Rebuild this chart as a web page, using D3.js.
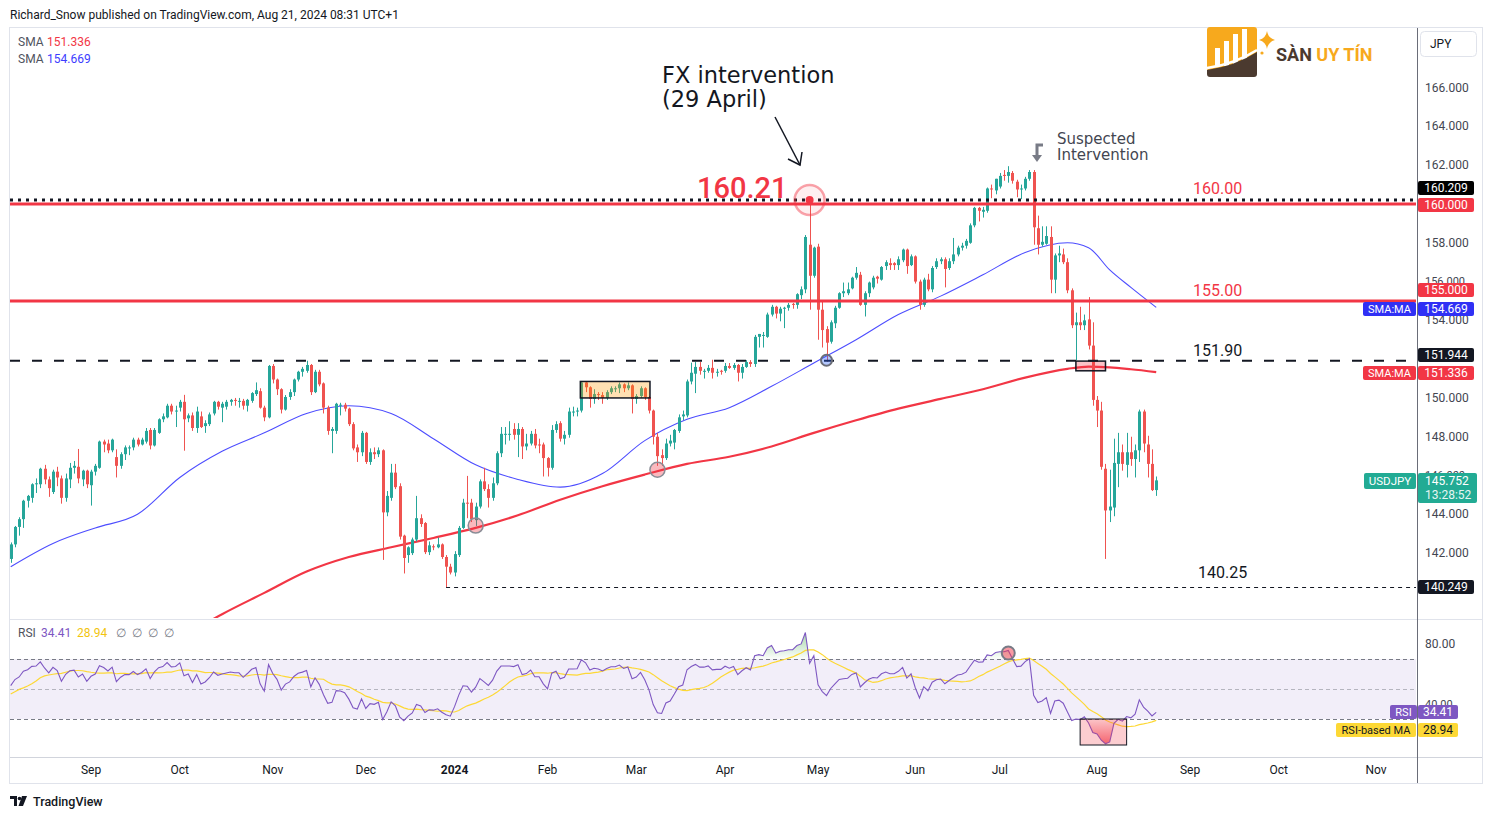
<!DOCTYPE html>
<html><head><meta charset="utf-8">
<script src="https://cdn.jsdelivr.net/npm/d3@7/dist/d3.min.js"></script>
<style>
body{margin:0;background:#fff;overflow:hidden}
svg{font-family:Roboto,"Noto Sans",sans-serif}
</style></head>
<body><svg id="chart" width="1492" height="819"></svg>
<script>
// ---------------- DATA ----------------
const startDate = "2023-08-07";
const axisEndDate = "2024-12-31";
const holidays = ["2024-01-01"];
// daily USDJPY candles [open, high, low, close], one per trading day from startDate
const candles = [
[141.70,142.55,141.50,142.45],[142.45,143.40,142.30,143.35],[143.35,143.85,142.90,143.75],[143.75,144.75,143.30,144.70],[144.70,145.00,144.35,144.95],
[144.85,145.60,144.60,145.55],[145.55,145.85,145.10,145.60],[145.55,146.40,145.35,146.35],[146.35,146.55,145.55,145.80],[145.80,145.95,144.90,145.35],
[145.15,146.30,145.05,146.20],[146.20,146.45,145.45,145.90],[145.85,146.00,144.55,144.85],[144.85,146.10,144.65,145.85],[145.80,146.65,145.35,146.40],
[146.40,146.75,146.10,146.50],[146.45,147.37,145.60,145.85],[145.80,146.30,145.45,146.25],[146.25,146.30,145.35,145.55],[145.50,146.30,144.45,146.20],
[146.20,146.60,146.00,146.50],[146.40,147.80,146.35,147.75],[147.75,147.85,147.20,147.60],[147.65,147.85,147.15,147.30],[147.30,147.90,147.20,147.85],
[146.95,147.35,145.90,146.50],[146.50,147.20,146.35,147.10],[147.10,147.55,146.80,147.45],[147.45,147.55,147.05,147.45],[147.45,147.95,147.30,147.85],
[147.85,147.95,147.50,147.60],[147.60,147.95,147.55,147.85],[147.75,148.45,147.65,148.30],[148.35,148.45,147.35,147.55],[147.55,148.45,147.50,148.35],
[148.20,148.95,148.15,148.90],[148.90,149.20,148.75,149.05],[149.00,149.70,148.95,149.60],[149.60,149.70,149.15,149.30],[149.30,149.60,148.50,149.35],
[149.50,149.90,149.30,149.80],[149.80,150.16,147.28,148.90],[148.95,149.20,148.75,149.10],[149.10,149.25,148.30,148.45],[148.45,149.55,148.20,149.30],
[149.05,149.30,148.45,148.50],[148.55,148.85,148.20,148.70],[148.65,149.25,148.55,149.15],[149.20,149.85,149.10,149.80],[149.80,149.85,149.40,149.55],
[149.50,149.80,148.75,149.70],[149.55,149.90,149.40,149.80],[149.80,149.95,149.60,149.90],[149.90,150.00,149.60,149.85],[149.85,150.00,149.50,149.85],
[149.85,149.95,149.40,149.60],[149.60,149.95,149.30,149.90],[149.85,150.30,149.75,150.25],[150.20,150.80,150.10,150.40],[150.35,150.50,149.45,149.50],
[149.50,149.60,148.80,149.00],[149.00,151.70,148.95,151.65],[151.65,151.75,150.75,150.95],[150.95,151.00,150.15,150.45],[150.45,150.50,149.20,149.40],
[149.40,150.15,149.35,150.05],[150.05,150.45,149.90,150.30],[150.30,151.00,150.10,150.95],[150.95,151.40,150.85,151.35],[151.35,151.60,151.10,151.50],
[151.40,151.92,151.30,151.70],[151.70,151.75,150.15,150.30],[150.30,151.45,150.25,151.35],[151.35,151.45,150.60,150.70],[150.75,150.80,149.20,149.50],
[149.50,149.60,148.10,148.30],[148.30,148.50,147.15,148.40],[148.30,149.75,148.15,149.70],[149.60,149.75,149.10,149.65],[149.65,149.75,149.30,149.45],
[149.45,149.50,148.55,148.65],[148.65,148.75,147.30,147.40],[147.45,147.60,146.70,147.20],[147.20,148.30,147.00,148.20],[148.20,148.25,146.60,146.70],
[146.70,147.40,146.55,147.20],[147.20,147.45,146.85,147.10],[147.10,147.45,146.95,147.30],[147.30,147.35,141.65,144.10],[144.10,145.20,143.90,144.95],
[144.85,146.60,144.70,146.15],[146.15,146.60,145.30,145.40],[145.45,145.60,142.70,142.85],[142.90,142.95,140.95,141.75],[141.90,142.35,141.50,142.30],
[142.00,142.80,141.90,142.70],[142.70,144.95,142.60,143.80],[143.80,144.00,143.35,143.50],[143.55,143.60,141.95,142.05],[142.05,142.60,141.90,142.40],
[142.35,142.45,142.15,142.30],[142.30,142.80,142.25,142.45],[142.45,142.50,141.70,141.80],[141.80,141.90,140.25,141.30],[141.30,141.45,140.90,141.00],
[141.00,142.10,140.80,141.95],[141.90,143.40,141.80,143.30],[143.30,144.80,143.25,144.60],[144.60,145.98,143.80,144.55],[144.60,144.80,143.60,143.75],
[143.70,144.60,143.40,144.40],[144.40,145.80,144.30,145.70],[145.70,146.40,145.20,145.30],[145.30,145.55,144.35,144.85],[144.85,145.90,144.70,145.60],
[145.60,147.25,145.50,147.15],[147.15,148.50,146.95,148.15],[148.15,148.50,147.60,148.15],[148.15,148.80,147.80,148.15],[148.40,148.70,147.85,148.10],
[148.10,148.70,146.95,148.40],[148.40,148.50,146.85,147.50],[147.50,148.15,147.30,147.65],[147.65,148.30,147.55,148.15],[148.15,148.40,147.40,147.55],
[147.60,147.90,147.15,147.55],[147.60,147.70,145.95,146.90],[146.90,146.95,145.95,146.40],[146.40,148.60,146.30,148.35],[148.35,148.80,148.20,148.65],
[148.70,148.80,147.75,147.90],[147.90,148.30,147.60,148.10],[148.10,149.50,147.95,149.30],[149.30,149.55,149.05,149.30],[149.30,149.50,149.05,149.35],
[149.35,150.85,149.25,150.80],[150.80,150.85,150.30,150.55],[150.55,150.60,149.50,149.95],[149.95,150.45,149.70,150.20],[150.20,150.30,149.90,150.15],
[150.15,150.30,149.70,150.00],[150.00,150.40,149.90,150.30],[150.30,150.60,150.20,150.50],[150.50,150.60,150.30,150.50],[150.50,150.80,150.25,150.70],
[150.70,150.75,150.30,150.50],[150.50,150.80,150.40,150.65],[150.65,150.70,149.20,149.95],[149.95,150.20,149.70,150.10],[150.10,150.60,150.00,150.50],
[150.50,150.55,149.90,150.05],[150.05,150.10,149.20,149.35],[149.35,149.40,147.60,148.00],[148.00,148.20,146.50,147.00],[147.05,147.35,146.50,146.90],
[146.90,147.90,146.80,147.65],[147.65,148.10,147.50,147.80],[147.70,148.40,147.35,148.35],[148.30,149.15,148.20,149.00],[149.05,149.35,148.85,149.15],
[149.10,150.95,149.00,150.85],[150.85,151.82,150.70,151.30],[151.25,151.85,150.25,151.60],[151.60,151.85,151.20,151.40],[151.35,151.50,151.00,151.40],
[151.40,151.70,151.30,151.55],[151.55,151.97,151.00,151.30],[151.30,151.50,151.10,151.35],[151.40,151.45,151.20,151.35],[151.40,151.80,151.30,151.65],
[151.65,151.80,151.50,151.55],[151.55,151.80,151.45,151.70],[151.70,151.75,150.85,151.30],[151.30,151.75,151.00,151.60],[151.60,151.95,151.55,151.85],
[151.85,151.95,151.60,151.75],[151.75,153.25,151.60,153.15],[153.15,153.30,152.60,153.30],[153.25,153.40,152.60,153.25],[153.15,154.40,153.10,154.30],
[154.30,154.80,154.20,154.70],[154.70,154.75,154.10,154.35],[154.35,154.70,153.95,154.60],[154.60,154.70,153.60,154.65],[154.65,154.90,154.50,154.80],
[154.85,154.90,154.60,154.80],[154.80,155.40,154.60,155.35],[155.30,155.75,155.10,155.60],[155.60,158.40,155.40,158.30],[157.90,160.21,154.55,156.30],
[156.30,157.80,156.20,157.75],[157.80,157.95,153.00,154.55],[154.55,155.00,152.60,153.50],[153.55,153.70,151.86,152.85],[152.90,154.00,152.80,153.90],
[153.85,154.75,153.60,154.65],[154.65,155.45,154.60,155.40],[155.40,155.95,155.20,155.50],[155.40,155.95,155.30,155.60],[155.65,156.25,155.60,156.20],
[156.20,156.75,156.10,156.45],[156.35,156.50,154.75,154.80],[154.80,155.50,154.20,155.40],[155.40,156.00,155.20,155.95],[155.70,156.30,155.60,156.20],
[156.25,156.30,155.90,156.15],[156.10,156.80,156.05,156.75],[156.80,157.10,156.60,157.00],[156.95,157.20,156.60,156.85],[156.95,157.00,156.60,156.85],
[156.85,157.30,156.60,157.15],[157.10,157.70,157.00,157.65],[157.65,157.70,156.40,156.80],[156.85,157.40,156.80,157.30],[157.30,157.35,155.90,156.00],
[156.00,156.10,154.55,154.80],[154.80,156.20,154.70,156.10],[156.10,156.40,155.50,155.60],[155.60,156.80,155.45,156.70],[156.75,157.20,156.65,157.05],
[157.05,157.25,156.90,157.15],[157.15,157.25,155.70,156.65],[156.70,157.20,156.60,157.05],[157.05,158.25,156.90,157.40],[157.40,157.85,157.30,157.75],
[157.75,158.00,157.60,157.85],[157.85,158.20,157.70,158.10],[158.00,159.00,157.95,158.90],[158.90,159.85,158.80,159.80],[159.80,159.85,159.10,159.65],
[159.60,159.85,159.30,159.70],[159.65,160.85,159.55,160.80],[160.80,161.00,160.30,160.75],[160.70,161.30,160.50,161.30],[160.90,161.60,160.80,161.45],
[161.50,161.75,161.20,161.45],[161.45,161.95,161.10,161.65],[161.60,161.70,161.05,161.20],[161.15,161.25,160.35,160.75],[160.75,161.00,160.25,160.80],
[160.80,161.40,160.70,161.30],[161.30,161.75,161.20,161.65],[161.65,161.75,157.90,158.80],[158.75,159.40,157.40,157.90],[157.90,158.85,157.80,158.05],
[157.95,158.85,157.90,158.35],[158.30,158.85,155.40,156.10],[156.10,157.45,155.40,157.35],[157.35,157.85,157.00,157.45],[157.40,157.70,156.90,157.00],
[157.00,157.20,155.40,155.55],[155.55,155.65,153.60,153.75],[153.75,154.40,151.94,153.90],[153.90,154.70,153.50,153.75],[153.75,154.30,153.50,154.00],
[154.05,155.20,152.50,152.70],[152.70,153.90,149.60,149.90],[149.90,150.10,148.50,149.35],[149.35,149.80,146.30,146.45],[146.35,146.60,141.70,144.20],
[144.20,146.30,143.60,144.40],[144.35,147.90,143.90,146.65],[146.60,148.20,145.40,147.20],[147.20,147.60,146.25,146.60],[146.55,148.20,145.90,147.20],
[147.20,148.00,146.50,146.85],[146.85,147.60,145.90,147.30],[147.30,149.40,146.70,149.30],[149.30,149.40,147.20,147.65],[147.60,148.05,145.90,146.60],
[146.60,147.35,145.20,145.25],[145.25,145.95,144.95,145.75]
];
// closes of the trading days just before startDate (only used to warm up the RSI)
const priorCloses = [143.45,143.60,144.35,144.75,144.30,144.65,144.45,144.65,144.05,142.10,141.35,140.35,138.50,138.05,138.80,
                     138.75,139.60,139.95,140.05,141.80,141.45,140.90,140.25,139.45,141.15,142.30,143.35,143.35,142.55,141.75];
// moving averages at bar indexes
const smaIdx50  = [0,10,20,30,40,50,60,70,80,90,100,110,120,130,140,150,160,170,180,190,200,210,220,230,240,250,255,260,265,271];
const sma50     = [141.3,142.5,143.3,144.0,145.9,147.25,148.2,149.2,149.6,149.2,147.9,146.55,145.8,145.4,146.1,147.8,148.9,149.5,150.6,151.8,153.0,154.3,155.25,156.35,157.5,158.0,157.75,156.6,155.7,154.67];
const smaIdx200 = [40,50,60,70,80,90,100,110,120,130,140,150,160,170,180,190,200,210,220,230,240,250,255,260,265,271];
const sma200    = [137.6,138.85,139.95,141.05,141.8,142.3,142.78,143.3,143.95,144.75,145.45,146.05,146.6,146.97,147.5,148.2,148.85,149.45,149.95,150.45,151.05,151.5,151.62,151.58,151.48,151.336];
const priceTicks = [142,144,148,150,154,158,162,164,166];
const partialPriceTicks = [156,146];   // partly covered by the price tags
const rsiTicks = [80];
const partialRsiTicks = [40];
const monthStarts = ["2023-09-01","2023-10-01","2023-11-01","2023-12-01","2024-01-01","2024-02-01","2024-03-01","2024-04-01","2024-05-01","2024-06-01","2024-07-01","2024-08-01","2024-09-01","2024-10-01","2024-11-01"];
const monthLabels = ["Sep","Oct","Nov","Dec","2024","Feb","Mar","Apr","May","Jun","Jul","Aug","Sep","Oct","Nov"];
const levels = {dotted:160.209, red1:160.00, red2:155.00, dashed:151.944, low:140.249, peak:160.21};

// ---------------- SCALES ----------------
function weekdayDates(start, end, skip){
  const out=[]; const e=new Date(end+"T00:00:00Z");
  for(let d=new Date(start+"T00:00:00Z"); d<=e; d.setUTCDate(d.getUTCDate()+1)){
    const w=d.getUTCDay(); if(w===0||w===6) continue;
    const iso=d.toISOString().slice(0,10); if(skip.includes(iso)) continue;
    out.push(iso);
  }
  return out;
}
const dates = weekdayDates(startDate, axisEndDate, holidays);
const STEP = 4.227, X0 = 10.7;
const x = d3.scalePoint().domain(dates).range([X0, X0 + (dates.length-1)*STEP]);
const xi = i => x(dates[i]);
const y = d3.scaleLinear().domain([140,160]).range([591.9,204]);
const yr = d3.scaleLinear().domain([30,70]).range([719,659]);
const PL=10, PR=1416, PT=28, PB=618, RT=620, RB=756;
const DV = "'DejaVu Sans', Verdana, sans-serif";

const svg = d3.select("#chart");
const defs = svg.append("defs");
defs.append("clipPath").attr("id","cp").append("rect").attr("x",PL).attr("y",PT).attr("width",PR-PL).attr("height",PB-PT);
defs.append("clipPath").attr("id","cr").append("rect").attr("x",PL).attr("y",RT).attr("width",PR-PL).attr("height",RB-RT);
const gg = defs.append("linearGradient").attr("id","gGreen").attr("gradientUnits","userSpaceOnUse").attr("x1",0).attr("x2",0).attr("y1",yr(86)).attr("y2",yr(70));
gg.append("stop").attr("offset",0).attr("stop-color","#4caf50").attr("stop-opacity",0.45);
gg.append("stop").attr("offset",1).attr("stop-color","#4caf50").attr("stop-opacity",0.02);
const gr = defs.append("linearGradient").attr("id","gRed").attr("gradientUnits","userSpaceOnUse").attr("x1",0).attr("x2",0).attr("y1",yr(30)).attr("y2",yr(12));
gr.append("stop").attr("offset",0).attr("stop-color","#f23645").attr("stop-opacity",0.05);
gr.append("stop").attr("offset",1).attr("stop-color","#f23645").attr("stop-opacity",0.75);

// ---------------- FRAME / HEADER ----------------
svg.append("text").attr("x",10).attr("y",15).attr("dominant-baseline","central").attr("font-size",12).attr("fill","#131722")
  .text("Richard_Snow published on TradingView.com, Aug 21, 2024 08:31 UTC+1");
svg.append("rect").attr("x",9.5).attr("y",27.5).attr("width",1473).attr("height",756).attr("fill","none").attr("stroke","#e0e3eb");
svg.append("line").attr("x1",PL).attr("x2",1482).attr("y1",619.5).attr("y2",619.5).attr("stroke","#e0e3eb");
svg.append("line").attr("x1",PL).attr("x2",1482).attr("y1",757.5).attr("y2",757.5).attr("stroke","#d1d4dc");
svg.append("line").attr("x1",1417.5).attr("x2",1417.5).attr("y1",28).attr("y2",783).attr("stroke","#6a6d78");

// ---------------- PRICE PANE ----------------
const pg = svg.append("g").attr("clip-path","url(#cp)");
const line = d3.line().curve(d3.curveMonotoneX);
pg.append("path").attr("d", line(smaIdx200.map((k,j)=>[xi(k), y(sma200[j])]))).attr("fill","none").attr("stroke","#f23645").attr("stroke-width",2.2);
pg.append("path").attr("d", line(smaIdx50.map((k,j)=>[xi(k), y(sma50[j])]))).attr("fill","none").attr("stroke","#4d4dff").attr("stroke-width",1.1);
const cg = pg.append("g");
candles.forEach((d,i)=>{
  const cx = Math.round(xi(i));
  const up = d[3] >= d[0];
  const col = up ? "#26a69a" : "#ef5350";
  cg.append("line").attr("x1",cx+0.5).attr("x2",cx+0.5).attr("y1",y(d[1])).attr("y2",y(d[2])).attr("stroke",col).attr("stroke-width",1);
  const top = y(Math.max(d[0],d[3])), bot = y(Math.min(d[0],d[3]));
  cg.append("rect").attr("x",cx-1).attr("y",top).attr("width",3).attr("height",Math.max(1,bot-top)).attr("fill",col);
});
pg.append("line").attr("x1",PL).attr("x2",PR).attr("y1",y(levels.red1)).attr("y2",y(levels.red1)).attr("stroke","#f23645").attr("stroke-width",3);
pg.append("line").attr("x1",PL).attr("x2",PR).attr("y1",y(levels.red2)).attr("y2",y(levels.red2)).attr("stroke","#f23645").attr("stroke-width",3);
pg.append("line").attr("x1",PL).attr("x2",PR).attr("y1",y(levels.dotted)).attr("y2",y(levels.dotted)).attr("stroke","#131722").attr("stroke-width",3).attr("stroke-dasharray","3,5");
pg.append("line").attr("x1",PL).attr("x2",PR).attr("y1",y(levels.dashed)+0.5).attr("y2",y(levels.dashed)+0.5).attr("stroke","#131722").attr("stroke-width",2).attr("stroke-dasharray","10,12");
pg.append("line").attr("x1",xi(103)).attr("x2",PR).attr("y1",Math.round(y(levels.low))+0.5).attr("y2",Math.round(y(levels.low))+0.5).attr("stroke","#131722").attr("stroke-width",1).attr("stroke-dasharray","4,4");
pg.append("rect").attr("x",xi(135)-1).attr("y",y(150.85)).attr("width",xi(151)-xi(135)+2).attr("height",y(150.0)-y(150.85))
  .attr("fill","rgba(255,152,0,0.3)").attr("stroke","#131722").attr("stroke-width",1.5);
pg.append("rect").attr("x",xi(252)).attr("y",y(151.9)).attr("width",xi(259)-xi(252)).attr("height",y(151.4)-y(151.9))
  .attr("fill","rgba(242,54,69,0.3)").attr("stroke","#131722").attr("stroke-width",1.5);
[[110,143.42],[153,146.3]].forEach(([k,v])=>{
  pg.append("circle").attr("cx",xi(k)).attr("cy",y(v)).attr("r",7.5).attr("fill","rgba(242,54,69,0.35)").attr("stroke","#8a8d96").attr("stroke-width",1.5);
});
pg.append("circle").attr("cx",xi(193)).attr("cy",y(151.944)).attr("r",5.5).attr("fill","rgba(41,98,255,0.35)").attr("stroke","#6a6d78").attr("stroke-width",2);
pg.append("circle").attr("cx",xi(189)).attr("cy",y(levels.peak)).attr("r",15).attr("fill","rgba(242,54,69,0.08)").attr("stroke","rgba(242,54,69,0.45)").attr("stroke-width",2.5);
pg.append("circle").attr("cx",xi(189)).attr("cy",y(levels.peak)).attr("r",4).attr("fill","#f23645");

// text annotations
svg.append("text").attr("x",697).attr("y",198).attr("font-size",29).attr("font-weight",500).attr("fill","#f23645").text("160.21");
svg.append("text").attr("x",662).attr("y",83).style("font-family",DV).attr("font-size",22.5).attr("fill","#131722").text("FX intervention");
svg.append("text").attr("x",662).attr("y",107).style("font-family",DV).attr("font-size",22.5).attr("fill","#131722").text("(29 April)");
svg.append("line").attr("x1",775).attr("y1",117).attr("x2",800).attr("y2",165).attr("stroke","#131722").attr("stroke-width",1.5);
svg.append("path").attr("d","M788,159 L800,165 L802,152").attr("fill","none").attr("stroke","#131722").attr("stroke-width",1.5);
svg.append("text").attr("x",1057).attr("y",139).attr("dominant-baseline","central").style("font-family",DV).attr("font-size",15).attr("fill","#434651").text("Suspected");
svg.append("text").attr("x",1057).attr("y",155).attr("dominant-baseline","central").style("font-family",DV).attr("font-size",15).attr("fill","#434651").text("Intervention");
svg.append("path").attr("d","M1043,145 H1037 V156").attr("fill","none").attr("stroke","#787b86").attr("stroke-width",3);
svg.append("path").attr("d","M1032,155 L1042,155 L1037,162 Z").attr("fill","#787b86");
const lvlText = [["160.00",1193,188,"#f23645"],["155.00",1193,290,"#f23645"],["151.90",1193,350,"#131722"],["140.25",1198,572,"#131722"]];
lvlText.forEach(([t,tx,ty,c])=>svg.append("text").attr("x",tx).attr("y",ty).attr("dominant-baseline","central").attr("font-size",16).attr("fill",c).text(t));

const lg = svg.append("g").attr("font-size",12);
lg.append("text").attr("x",18).attr("y",42).attr("dominant-baseline","central").attr("fill","#50535e").text("SMA");
lg.append("text").attr("x",47).attr("y",42).attr("dominant-baseline","central").attr("fill","#f23645").text("151.336");
lg.append("text").attr("x",18).attr("y",59).attr("dominant-baseline","central").attr("fill","#50535e").text("SMA");
lg.append("text").attr("x",47).attr("y",59).attr("dominant-baseline","central").attr("fill","#3d3dff").text("154.669");

// ---------------- RSI PANE ----------------
const allCloses = priorCloses.concat(candles.map(d=>d[3]));
const N = 14;
const rsiAll = new Array(allCloses.length).fill(null);
let ag=0, al=0;
for(let k=1;k<=N;k++){const ch=allCloses[k]-allCloses[k-1]; if(ch>0) ag+=ch; else al-=ch;}
ag/=N; al/=N; rsiAll[N]=100-100/(1+ag/al);
for(let k=N+1;k<allCloses.length;k++){
  const ch=allCloses[k]-allCloses[k-1];
  ag=(ag*(N-1)+Math.max(ch,0))/N; al=(al*(N-1)+Math.max(-ch,0))/N;
  rsiAll[k]= al===0?100:100-100/(1+ag/al);
}
const maAll = rsiAll.map((v,k)=> (k>=2*N-1) ? d3.mean(rsiAll.slice(k-N+1,k+1)) : null);
const off = priorCloses.length;
const rsiPts = candles.map((d,i)=>[xi(i), rsiAll[i+off]]);
const maPts = candles.map((d,i)=>[xi(i), maAll[i+off]]);

const rg = svg.append("g").attr("clip-path","url(#cr)");
rg.append("rect").attr("x",PL).attr("y",yr(70)).attr("width",PR-PL).attr("height",yr(30)-yr(70)).attr("fill","rgba(126,87,194,0.1)");
rg.append("line").attr("x1",PL).attr("x2",PR).attr("y1",yr(70)+0.5).attr("y2",yr(70)+0.5).attr("stroke","#787b86").attr("stroke-dasharray","4,3");
rg.append("line").attr("x1",PL).attr("x2",PR).attr("y1",yr(50)+0.5).attr("y2",yr(50)+0.5).attr("stroke","rgba(120,123,134,0.5)").attr("stroke-dasharray","4,3");
rg.append("line").attr("x1",PL).attr("x2",PR).attr("y1",yr(30)+0.5).attr("y2",yr(30)+0.5).attr("stroke","#787b86").attr("stroke-dasharray","4,3");
rg.append("path").attr("d", d3.area().x(p=>p[0]).y0(yr(70)).y1(p=>yr(Math.max(70,p[1])))(rsiPts)).attr("fill","url(#gGreen)");
rg.append("path").attr("d", d3.area().x(p=>p[0]).y0(yr(30)).y1(p=>yr(Math.min(30,p[1])))(rsiPts)).attr("fill","url(#gRed)");
rg.append("path").attr("d", d3.line().defined(p=>p[1]!==null).x(p=>p[0]).y(p=>yr(p[1]))(maPts)).attr("fill","none").attr("stroke","#fdd835").attr("stroke-width",1.2);
rg.append("path").attr("d", d3.line().x(p=>p[0]).y(p=>yr(p[1]))(rsiPts)).attr("fill","none").attr("stroke","#7e57c2").attr("stroke-width",1.1);
rg.append("rect").attr("x",xi(253)).attr("y",yr(30)).attr("width",xi(264)-xi(253)).attr("height",26).attr("fill","rgba(242,54,69,0.25)").attr("stroke","#131722").attr("stroke-width",1);
rg.append("circle").attr("cx",xi(236)).attr("cy",yr(74)).attr("r",6.5).attr("fill","rgba(242,54,69,0.5)").attr("stroke","#787b86").attr("stroke-width",2);
const rl = svg.append("g").attr("font-size",12);
rl.append("text").attr("x",18).attr("y",633).attr("dominant-baseline","central").attr("fill","#50535e").text("RSI");
rl.append("text").attr("x",41).attr("y",633).attr("dominant-baseline","central").attr("fill","#7e57c2").text("34.41");
rl.append("text").attr("x",77).attr("y",633).attr("dominant-baseline","central").attr("fill","#f2c40f").text("28.94");
["∅","∅","∅","∅"].forEach((t,j)=>rl.append("text").attr("x",116+j*16).attr("y",633).attr("dominant-baseline","central").attr("fill","#787b86").text(t));

// ---------------- AXES ----------------
const ax = svg.append("g").attr("font-size",12).attr("fill","#131722");
priceTicks.forEach(v=>ax.append("text").attr("x",1425).attr("y",y(v)).attr("dominant-baseline","central").attr("fill","#434651").text(v.toFixed(3)));
rsiTicks.forEach(v=>ax.append("text").attr("x",1425).attr("y",yr(v)).attr("dominant-baseline","central").attr("fill","#434651").text(v.toFixed(2)));
// tick labels that the price tags cover: only their top part shows, as in the original
function partialTick(yc, txt, cutY, id){
  defs.append("clipPath").attr("id",id).append("rect").attr("x",1418).attr("y",yc-9).attr("width",64).attr("height",cutY-(yc-9));
  ax.append("text").attr("x",1425).attr("y",yc).attr("dominant-baseline","central").attr("font-size",11).attr("fill","#434651")
    .attr("clip-path",`url(#${id})`).text(txt);
}
partialPriceTicks.forEach((v,j)=>partialTick(y(v), v.toFixed(3), v===156?283:473, "pt"+j));
partialRsiTicks.forEach((v,j)=>partialTick(yr(v), v.toFixed(2), 705, "pr"+j));
monthStarts.forEach((m,j)=>{
  const k = dates.findIndex(d=>d>=m);
  ax.append("text").attr("x",x(dates[k])).attr("y",770).attr("text-anchor","middle").attr("dominant-baseline","central")
    .attr("font-weight", monthLabels[j]==="2024"?700:400).attr("fill","#131722").text(monthLabels[j]);
});
svg.append("rect").attr("x",1420.5).attr("y",31.5).attr("width",56).attr("height",25).attr("rx",4).attr("fill","#fff").attr("stroke","#e0e3eb");
svg.append("text").attr("x",1430).attr("y",44).attr("dominant-baseline","central").attr("font-size",12).attr("fill","#131722").text("JPY");

function tag(xl, w, yc, h, fill, txt, tcol, fs){
  svg.append("rect").attr("x",xl).attr("y",yc-h/2).attr("width",w).attr("height",h).attr("rx",2).attr("fill",fill);
  svg.append("text").attr("x",xl+w/2).attr("y",yc).attr("text-anchor","middle").attr("dominant-baseline","central")
    .attr("font-size",fs||12).attr("fill",tcol).text(txt);
}
tag(1418,56,188,14,"#000","160.209","#fff");
tag(1418,56,205,14,"#f23645","160.000","#fff");
tag(1418,56,290,14,"#f23645","155.000","#fff");
tag(1418,56,309,14,"#3030f5","154.669","#fff");
tag(1363,53,309,14,"#3030f5","SMA:MA","#fff",11);
tag(1418,56,355,14,"#131722","151.944","#fff");
tag(1418,56,373,14,"#f23645","151.336","#fff");
tag(1363,53,373,14,"#f23645","SMA:MA","#fff",11);
tag(1364,52,481,16,"#22ab94","USDJPY","#fff",11.5);
svg.append("rect").attr("x",1418).attr("y",473).attr("width",59).attr("height",30).attr("rx",2).attr("fill","#22ab94");
svg.append("text").attr("x",1425).attr("y",481).attr("dominant-baseline","central").attr("font-size",12).attr("fill","#fff").text("145.752");
svg.append("text").attr("x",1425).attr("y",495).attr("dominant-baseline","central").attr("font-size",12).attr("fill","#e6f5f2").text("13:28:52");
tag(1418,56,587,14,"#131722","140.249","#fff");
tag(1390,27,712,14,"#7e57c2","RSI","#fff",11);
tag(1418,40,712,14,"#7e57c2","34.41","#fff");
tag(1336,80,730,14,"#fdd835","RSI-based MA","#131722",11);
tag(1418,40,730,14,"#fdd835","28.94","#131722");

// ---------------- LOGO / FOOTER ----------------
const lo = svg.append("g");
lo.append("rect").attr("x",1207).attr("y",27).attr("width",50).attr("height",44).attr("rx",3).attr("fill","#f7a91d");
[[1215,48],[1224,41],[1233,34],[1242,29]].forEach(([bx,by])=>lo.append("rect").attr("x",bx).attr("y",by).attr("width",5).attr("height",66-by).attr("fill","#fff"));
lo.append("path").attr("d","M1207,70 Q1235,66 1257,52 L1257,74 Q1257,77 1254,77 L1210,77 Q1207,77 1207,74 Z").attr("fill","#4b3a2f");
lo.append("path").attr("d","M1207,68 Q1235,64 1257,50").attr("fill","none").attr("stroke","#fff").attr("stroke-width",2.5);
lo.append("path").attr("d","M1267,31 Q1268,38 1275,40 Q1268,42 1267,49 Q1266,42 1259,40 Q1266,38 1267,31 Z").attr("fill","#f7a91d");
lo.append("circle").attr("cx",1262).attr("cy",53).attr("r",1.6).attr("fill","#f7a91d");
const lt = lo.append("text").attr("x",1276).attr("y",61).attr("font-size",18).attr("font-weight",700);
lt.append("tspan").attr("fill","#4b3a2f").text("SÀN ");
lt.append("tspan").attr("fill","#f7a91d").text("UY TÍN");

const ft = svg.append("g").attr("fill","#131722");
ft.append("path").attr("d","M10,796 H17 V806 H14 V799 H10 Z");
ft.append("circle").attr("cx",19.5).attr("cy",798.5).attr("r",1.8);
ft.append("path").attr("d","M22,796 H27 L23,806 H18.5 Z");
ft.append("text").attr("x",33).attr("y",801).attr("dominant-baseline","central").attr("font-size",12.5).attr("font-weight",500).text("TradingView");
</script>
</body></html>
